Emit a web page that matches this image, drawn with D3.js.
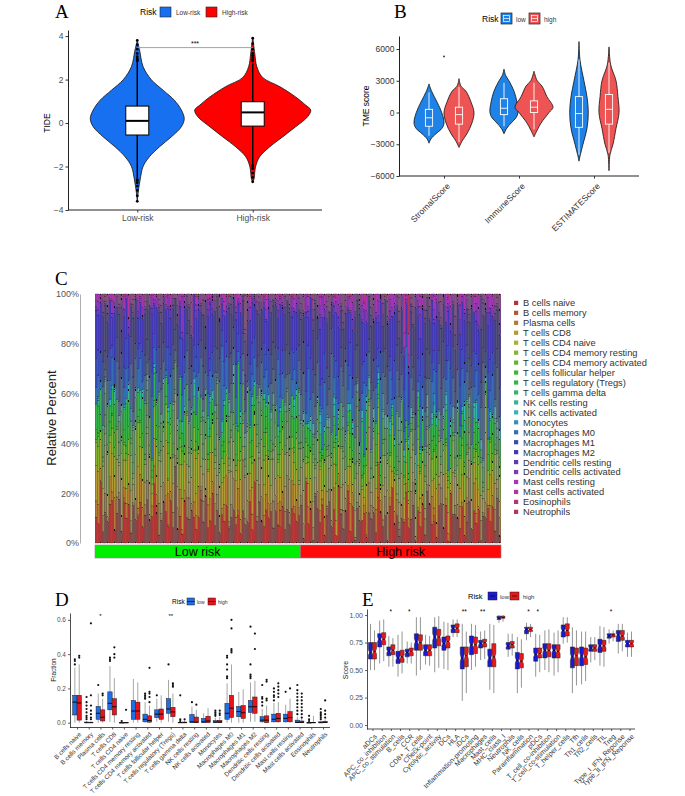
<!DOCTYPE html>
<html><head><meta charset="utf-8">
<script src="https://cdn.jsdelivr.net/npm/d3@7"></script>
<style>body{margin:0;background:#fff}</style>
</head><body>
<svg id="c" width="685" height="796"></svg>
<script>
// ---------------- DATA ----------------
// Panel A (TIDE)
const riskA = ["Low-risk","High-risk"];
const tideTicks = [-4,-2,0,2,4];
const tideLowDens = [[3.8,0],[3.35,0.04],[2.6,0.1],[2.0,0.24],[1.5,0.45],[1.05,0.64],[0.6,0.76],[0.2,0.81],[-0.17,0.76],[-0.63,0.59],[-1.1,0.38],[-1.55,0.21],[-2.0,0.1],[-2.6,0.05],[-3.1,0.02],[-3.6,0]];
const tideHighDens = [[3.95,0],[3.2,0.035],[2.6,0.07],[2.1,0.17],[1.67,0.47],[1.2,0.74],[0.83,0.91],[0.6,1.0],[0.3,0.95],[-0.17,0.74],[-0.63,0.52],[-1.1,0.29],[-1.55,0.12],[-2.0,0.05],[-2.6,0.02],[-2.7,0]];
const tideLowBox = [-2.55,-0.55,0.1,0.78,2.8];
const tideHighBox = [-1.9,-0.14,0.49,0.98,2.75];
const tideLowOut = [2.85,2.9,2.95,3.05,3.2,3.4,3.6,3.8,-2.6,-2.65,-2.75,-2.9,-3.1,-3.35,-3.6];
const tideHighOut = [2.85,2.9,3.0,3.1,3.2,3.4,3.65,3.9,-1.95,-2.0,-2.1,-2.3,-2.5,-2.7];
const tideSig = "***";

// Panel B (TME score)
const tmeScores = ["StromalScore","ImmuneScore","ESTIMATEScore"];
const tmeGroups = ["low","high"];
const tmeTicks = [-6000,-3000,0,3000,6000];
const tmeLowDens = [
 [[2700,0],[2000,0.14],[1000,0.42],[0,0.67],[-1000,0.79],[-1500,0.68],[-2000,0.37],[-2500,0.1],[-2900,0]],
 [[4100,0],[3500,0.09],[3000,0.26],[2000,0.53],[1000,0.68],[0,0.74],[-500,0.63],[-1000,0.37],[-1500,0.14],[-2000,0]],
 [[6700,0],[5000,0.05],[3000,0.26],[1500,0.42],[0,0.49],[-1500,0.42],[-3000,0.21],[-4000,0.07],[-4600,0]]];
const tmeHighDens = [
 [[3200,0],[2500,0.1],[2000,0.37],[1000,0.63],[0,0.79],[-1000,0.68],[-2000,0.42],[-2700,0.16],[-3300,0]],
 [[3900,0],[3000,0.17],[2500,0.42],[1500,0.68],[500,1],[0,0.79],[-1000,0.37],[-1700,0.16],[-2300,0]],
 [[6200,0],[4500,0.09],[3000,0.37],[1500,0.47],[0,0.53],[-1500,0.37],[-3000,0.21],[-4000,0.05],[-5500,0]]];
const tmeLowBox = [[-2200,-1300,-500,300,1900],[-1300,-200,400,1300,2800],[-4000,-1400,-100,1500,5000]];
const tmeHighBox = [[-2800,-1100,-200,500,2400],[-1600,0,500,1100,2800],[-3800,-1100,300,1700,4700]];
const tmeOutliers = [[5300],[],[]];

// Panel C (CIBERSORT relative percent); one char per sample, value in percent
const cellTypes = ["B cells naive","B cells memory","Plasma cells","T cells CD8","T cells CD4 naive","T cells CD4 memory resting","T cells CD4 memory activated","T cells follicular helper","T cells regulatory (Tregs)","T cells gamma delta","NK cells resting","NK cells activated","Monocytes","Macrophages M0","Macrophages M1","Macrophages M2","Dendritic cells resting","Dendritic cells activated","Mast cells resting","Mast cells activated","Eosinophils","Neutrophils"];
const fracLow = [
"8af5c9hk6b d7gal4e9cj 6bm8fud3ah c9e7B6b4gd 9fa5cn7r6b h8c5d9f6ag 7b4ec8j6s9 ea6g9c5fb8 d6a9fc7e",
"0000100000 0020000010 0000003000 0100000000 0000050000 0000000100 0200000000 0001000008 00000000",
"5a3782c4f6 2946b5183d 74a2695c38 6h3759b24a 8365e2749b 4a6837c25f 396m4857a2 6b485397d4 58a6c374",
"bh7ck9fiae 8mb6gc7hjd a9ob7e8gcf l7bdq9aebh 6ck8fb9hdn ag7ecb8ld9 ebh6ra8cgf 9dbka7e8hc fb7ge9ac",
"0000000000 0000000000 0000000000 0000000000 0000000000 0000000100 0000000000 0000000000 00000000",
"7d2a5h3c9b 1f6b8e2ak4 c7395gd2b6 e18c4a7f3p 6b9d2h5c18 a3f7b6e2d9 4c8a1g7b5e 2d9c6a3f8b 7e4c59a2",
"1502310640 2813052107 0261403152 0e31024601 5203170240 1362051308 2041620315 0b52130426 1053042g",
"3242536171 4253724231 5263436a42 3625247231 2463825724 2352641736 4263517734 3256242735 24369253",
"8e6c9g7bda 6f8he7c9b5 dk7a6e9c8g 7b5fd8h6ce 9c6aeb8g7d 5h8c6f9b7e ap6d8c7g9b e7c5h8d6ba 8f6d9c7e",
"0000000000 0000000000 0000000000 0000000000 0000000000 0000000000 0000000000 0000000000 00000000",
"0300510260 0402601309 2050031040 0603020510 0250401370 3010502604 0130620401 5020304160 0301052c",
"0102103010 2010301020 1030120102 0201031020 1020102013 0301020105 1020301020 0102030102 01020301",
"0100100010 0010050100 0100001000 1000100070 0100010001 0010100000 1006000100 0100010010 00100001",
"5b2h3a8d1e 4g7c2i5b9f 3a6ez8c4b7 2d9f5a1c6h 8b3e7k4a9c 5f2ry6d3b8 a4c7e2g9b5 1d6h3a8cE5 9b4f7c2e",
"9d7b8ae6c9 af8c7bd697 b8c6e7ad98 9k7bacf869 c8a7d9be76 8c9b7a6fca d7b98ace97 a6c8db9f7b 8c9ad7b8",
"fickjeldlb gdkficmhej cgfjxeidkg elcgfidhjc idkegfhcnr dgficjclfe hcjegdkifm eidhfgckiy fgdkehci",
"1302140230 2e31402130 1240310253 0132041302 5103240f31 2041302140 3102m40231 4021302150 13024030",
"2415031624 1502413052 3140625130 2513041g25 1402315042 3516024130 2041536214 0325140263 15024136",
"2403152041 3250142031 5204130251 3142053021 4b03152402 1305241302 5140325013 2405132041 30251402",
"0010200300 0100c02001 0300100200 1000200100 0400100020 0001030010 0200m01000 1003000200 01000200",
"0000000000 0000100000 0000000000 0000000010 0000000000 0000000000 0000100000 0000000000 00000000",
"0000100000 0010000100 0000001000 0100000000 0001000000 1000000100 0000010000 0010000001 00001000"];
const fracHigh = [
"c2h9a1fk7d 3bg8e2rc6a j5d1hb8f2e 9c4lg7a1dk 6e2b9t5cf1 a8d3gj6b2e f7c1ka9d4h 2bg6e8c1fa b9d5e3",
"0000001000 0300000000 0000000010 000f000000 0020000000 0000000300 0000010000 0a00000000 000000",
"3618250a42 7153906284 2c5137048e 5291637b30 4826153e92 1736209458 6b24103762 5390c41826 174938",
"9e4b7a5he3 c68fa4d9b5 7g39e6b4aq 5c8d4f79b6 a36e9c5h48 d7b4a95fc3 6e8b3g9a5d 4b7c9e6a8s 5d9b37",
"0000000000 0000000000 0000000000 0000000000 0000001000 0000000000 0000000000 0000000000 000000",
"6c2a8f3d1b 9e5c7a2gb4 d38b6e1c7a 5f9c2d8b4h 1a7e6c3d9b 8c4a2f7e5d 3b9d6c1a8e 7c5f2b9d4a 6e3c8b",
"0142031520 1304206130 2510h13062 0314250103 1205314021 4102530162 0314021503 2160413025 013204",
"2516142731 6142752724 1635a21461 4172526310 2754172163 5214126742 3712514c16 1461725231 517214",
"6948537a62 5879463b85 4a6973j584 6385794a63 7m59648352 4796385a74 6593847b56 8n47695384 576948",
"0000000000 0000010000 0000000000 0000000000 0000000000 0000000100 0000000000 0000000000 000000",
"0200310140 0301502001 3020041030 0102030520 0140201307 2010302503 0120410201 3010502040 010230",
"1302140230 2140312051 0320413026 1403215031 2041302514 0231402130 1430251302 4130281402 031524",
"0101001010 0100100041 0010100101 0010070010 1001001010 0100010501 0010100100 1010010010 010010",
"8g3p5c9k2e h4bD7a3f9m 5c8i2g6A4b j7d3F9e5h2 cl6a8G4f9b 3k7d5nac2h 9e4W6b8g3i 5f2o7c9dS4 a8e3g6",
"8d6bc9ae7a bf5c9ad864 9e7cg5abb6 6cb8e9af57 cd5ai86b97 7fbd9c6ae5 ah68ec5db9 5ec9f7ba86 bd8f6c",
"gbmdiflcjl eipchdnfib kdhbmGfjci lfgcqbihdn fkcjehbmgL difkcgkejb nhcifgdkem bjeohdclig fkdicn",
"2103042150 3201405230 1042031602 4103250130 2051402310 3c02410253 1402305140 2031042d01 420315",
"3152041637 2504136152 4160325140 3627150243 1536024175 2413062514 3052716243 1524036172 504316",
"3605142731 4260315472 1536024361 5273041625 3140627351 2536140723 6142537031 4261735024 163527",
"0100020010 0300010002 0100030100 0200100300 0010h00200 0100020100 3001000200 0100010030 001000",
"0000000000 0010000000 0000000400 0000000000 0000010000 0000000000 0002000000 0000000000 000000",
"0001000000 0000100000 0100000000 0000001000 000000d000 0010000000 0000000100 0000100000 000010"];
const riskC = ["Low risk","High risk"];
const pctTicks = [0,0.2,0.4,0.6,0.8,1];

// Panel D (immune cell fraction), box stats [lo,q1,median,q3,hi]
const dCells = cellTypes;
const dLowBox = [[0,0.045,0.12,0.16,0.32],[0,0,0,0.004,0.01],[0,0.02,0.055,0.095,0.17],[0.005,0.075,0.113,0.18,0.33],[0,0,0,0,0.002],[0,0.02,0.068,0.13,0.255],[0,0.005,0.02,0.05,0.12],[0.005,0.03,0.05,0.075,0.14],[0.005,0.055,0.08,0.14,0.25],[0,0,0,0.003,0.008],[0,0,0.005,0.048,0.095],[0,0,0.005,0.025,0.055],[0,0,0.004,0.012,0.03],[0,0.02,0.055,0.113,0.23],[0,0.035,0.065,0.095,0.18],[0.005,0.06,0.093,0.13,0.235],[0,0.005,0.015,0.035,0.08],[0,0.005,0.02,0.05,0.115],[0,0.005,0.025,0.05,0.105],[0,0,0.002,0.015,0.035],[0,0,0,0,0.003],[0,0,0,0.005,0.012]];
const dHighBox = [[0,0.015,0.115,0.16,0.34],[0,0,0,0.003,0.008],[0,0.01,0.032,0.075,0.14],[0,0.045,0.093,0.14,0.26],[0,0,0,0.001,0.003],[0,0.02,0.068,0.12,0.235],[0,0.003,0.013,0.04,0.1],[0,0.02,0.05,0.08,0.16],[0,0.035,0.063,0.09,0.17],[0,0,0,0.004,0.018],[0,0,0.003,0.033,0.075],[0,0,0.01,0.038,0.085],[0,0,0.004,0.014,0.035],[0,0.03,0.085,0.16,0.34],[0,0.025,0.058,0.1,0.195],[0.005,0.055,0.093,0.15,0.245],[0,0,0.015,0.04,0.1],[0,0.005,0.025,0.055,0.12],[0,0.005,0.03,0.065,0.14],[0,0,0.002,0.01,0.025],[0,0,0,0.002,0.04],[0,0,0.002,0.008,0.02]];
const dLowOut = [[0.34,0.36,0.37],[0.02,0.03,0.04,0.06,0.08,0.1,0.12,0.15],[0.22],[0.36,0.37,0.38],[0.01],[],[0.14,0.15,0.16,0.17],[0.16],[0.34],[0.01,0.02,0.16],[0.12],[],[0.04,0.05,0.06,0.07],[0.26,0.27,0.31,0.34,0.38,0.39],[],[0.26,0.27,0.28,0.34,0.56],[0.1,0.12,0.14,0.15,0.22],[0.13,0.15,0.16,0.18,0.2],[0.18],[0.05,0.07,0.09,0.11,0.13,0.15,0.17,0.19,0.22],[0.01,0.02,0.04],[0.02,0.03,0.04,0.05,0.06,0.08]];
const dHighOut = [[0.38,0.39],[0.02,0.03,0.05,0.07,0.1,0.16,0.58],[0.16,0.17],[0.38,0.4,0.44],[0.075],[],[0.12,0.15,0.17,0.18,0.32],[],[0.21,0.22,0.23],[0.02],[0.105],[],[0.045,0.055,0.07],[0.41,0.42,0.43,0.55,0.6],[],[0.43,0.52],[0.13,0.14,0.24,0.25],[0.15,0.17,0.19,0.21,0.23],[0.2],[0.03,0.05,0.07,0.09,0.11,0.13,0.15,0.17],[],[0.03,0.05,0.07,0.13]];
const dSig = ["","","*","","","","","","**","","","","","","","","","","","","",""];
const dTicks = [0,0.2,0.4,0.6];

// Panel E (ssGSEA score)
const eSets = ["aDCs","APC_co_inhibition","APC_co_stimulation","B_cells","CCR","CD8+_T_cells","Check-point","Cytolytic_activity","DCs","HLA","iDCs","Inflammation-promoting","Macrophages","Mast_cells","MHC_class_I","Neutrophils","NK_cells","Parainflammation","pDCs","T_cell_co-inhibition","T_cell_co-stimulation","T_helper_cells","Tfh","Th1_cells","Th2_cells","TIL","Treg","Type_I_IFN_Reponse","Type_II_IFN_Reponse"];
const eLowBox = [[0.50,0.60,0.66,0.75,0.92],[0.56,0.71,0.78,0.83,0.95],[0.53,0.63,0.67,0.71,0.81],[0.44,0.56,0.61,0.67,0.82],[0.56,0.62,0.66,0.69,0.76],[0.45,0.68,0.76,0.83,0.98],[0.55,0.63,0.68,0.73,0.82],[0.48,0.70,0.80,0.89,0.98],[0.51,0.68,0.74,0.80,0.94],[0.80,0.84,0.88,0.91,0.96],[0.22,0.51,0.61,0.71,0.92],[0.50,0.64,0.73,0.81,0.92],[0.59,0.70,0.74,0.77,0.85],[0.32,0.53,0.61,0.69,0.92],[0.93,0.96,0.97,0.99,1.0],[0.62,0.69,0.72,0.75,0.83],[0.29,0.51,0.59,0.66,0.80],[0.77,0.83,0.87,0.89,0.93],[0.44,0.58,0.64,0.70,0.83],[0.50,0.61,0.68,0.74,0.86],[0.45,0.61,0.68,0.73,0.84],[0.74,0.80,0.86,0.91,0.98],[0.29,0.52,0.62,0.71,0.89],[0.37,0.54,0.63,0.71,0.85],[0.57,0.67,0.70,0.73,0.80],[0.54,0.66,0.72,0.78,0.90],[0.74,0.79,0.81,0.83,0.87],[0.65,0.76,0.82,0.86,0.92],[0.62,0.71,0.74,0.77,0.84]];
const eHighBox = [[0.50,0.60,0.67,0.75,0.86],[0.58,0.73,0.78,0.84,0.96],[0.53,0.64,0.68,0.73,0.79],[0.47,0.57,0.62,0.68,0.85],[0.56,0.63,0.67,0.70,0.75],[0.50,0.68,0.75,0.82,0.98],[0.54,0.63,0.68,0.73,0.81],[0.52,0.72,0.80,0.87,0.99],[0.50,0.70,0.76,0.81,0.93],[0.80,0.84,0.88,0.92,0.96],[0.29,0.53,0.63,0.71,0.85],[0.53,0.65,0.73,0.80,0.91],[0.60,0.71,0.75,0.78,0.86],[0.29,0.53,0.62,0.74,0.91],[0.94,0.97,0.98,0.99,1.0],[0.63,0.70,0.73,0.76,0.83],[0.34,0.52,0.58,0.65,0.78],[0.80,0.85,0.87,0.89,0.92],[0.48,0.61,0.65,0.70,0.82],[0.48,0.62,0.68,0.74,0.87],[0.48,0.61,0.67,0.73,0.86],[0.75,0.81,0.86,0.92,0.98],[0.36,0.54,0.63,0.70,0.86],[0.40,0.55,0.62,0.70,0.85],[0.59,0.67,0.70,0.73,0.80],[0.53,0.67,0.72,0.77,0.89],[0.76,0.80,0.82,0.83,0.86],[0.67,0.77,0.81,0.86,0.92],[0.62,0.71,0.74,0.77,0.85]];
const eSig = ["","","*","","*","","","","","","**","","**","","","","","*","*","","","","","","","","*","",""];
const eTicks = [0,0.25,0.5,0.75,1];
const eN = 88;

// ---------------- DRAWING ----------------
const svg = d3.select("#c");
const SANS = "'Liberation Sans', Arial, Helvetica, sans-serif";
const SERIF = "'Liberation Serif', 'Times New Roman', serif";
svg.append("rect").attr("width",685).attr("height",796).attr("fill","#fff");

function plabel(t,x,y){ svg.append("text").attr("x",x).attr("y",y).attr("font-family",SERIF).attr("font-size",19).text(t); }
function txt(g,x,y,t,size,opts={}){
  const e=g.append("text").attr("x",x).attr("y",y).attr("font-family",SANS).attr("font-size",size).attr("fill",opts.fill||"#000").text(t);
  if(opts.anchor) e.attr("text-anchor",opts.anchor);
  if(opts.rot!==undefined) e.attr("transform",`rotate(${opts.rot},${x},${y})`);
  if(opts.dy) e.attr("dy",opts.dy);
  return e;
}
function styleAxis(g,size,col,lw){
  g.selectAll("text").attr("font-family",SANS).attr("font-size",size).attr("fill",col);
  g.selectAll("line").attr("stroke","#333").attr("stroke-width",lw);
  g.select(".domain").attr("stroke","#222").attr("stroke-width",lw);
}

// ===== Panel A =====
plabel("A",55,18);
const gA = svg.append("g");
const yA = d3.scaleLinear().domain([-4,4.28]).range([210,30]);
const xA = d3.scalePoint().domain(riskA).range([68,322]).padding(0.6);
const wA = d3.scaleLinear().domain([0,1]).range([0,58]);
const colA = {"Low-risk":"#1770f0","High-risk":"#ff0000"};
[[riskA[0],tideLowDens,tideLowBox,tideLowOut],[riskA[1],tideHighDens,tideHighBox,tideHighOut]].forEach(([k,dens,bx,out])=>{
  const cx=xA(k);
  const area=d3.area().curve(d3.curveCatmullRom).y(d=>yA(d[0])).x0(d=>cx-wA(d[1])).x1(d=>cx+wA(d[1]));
  gA.append("path").attr("d",area(dens)).attr("fill",colA[k]).attr("stroke","#111").attr("stroke-width",0.8);
  gA.append("line").attr("x1",cx).attr("x2",cx).attr("y1",yA(bx[0])).attr("y2",yA(bx[4])).attr("stroke","#000").attr("stroke-width",1.5);
  gA.append("rect").attr("x",cx-11.5).attr("width",23).attr("y",yA(bx[3])).attr("height",yA(bx[1])-yA(bx[3])).attr("fill","#fff").attr("stroke","#000").attr("stroke-width",1);
  gA.append("line").attr("x1",cx-11.5).attr("x2",cx+11.5).attr("y1",yA(bx[2])).attr("y2",yA(bx[2])).attr("stroke","#000").attr("stroke-width",2);
  gA.selectAll(null).data(out).enter().append("circle").attr("cx",cx).attr("cy",d=>yA(d)).attr("r",1.4).attr("fill","#000");
});
gA.append("line").attr("x1",xA(riskA[0])).attr("x2",xA(riskA[1])).attr("y1",yA(3.47)).attr("y2",yA(3.47)).attr("stroke","#999").attr("stroke-width",0.9);
txt(gA,(xA(riskA[0])+xA(riskA[1]))/2,yA(3.47)-2,tideSig,7,{anchor:"middle"});
const axAy = gA.append("g").attr("transform","translate(68,0)").call(d3.axisLeft(yA).tickValues(tideTicks).tickSize(2.5).tickSizeOuter(0).tickPadding(2));
styleAxis(axAy,8.5,"#4d4d4d",1);
const axAx = gA.append("g").attr("transform","translate(0,210)").call(d3.axisBottom(xA).tickSize(2.5).tickSizeOuter(0).tickPadding(2));
styleAxis(axAx,8.5,"#4d4d4d",1);
axAx.select(".domain").attr("d","M68,0H322");
txt(gA,50,123,"TIDE",8.5,{anchor:"middle",rot:-90});
txt(gA,140,15,"Risk",8.5);
[[riskA[0],160,176],[riskA[1],206,222]].forEach(([k,x,tx])=>{
  gA.append("rect").attr("x",x).attr("y",7).attr("width",11).attr("height",10).attr("fill",colA[k]).attr("stroke","#222").attr("stroke-width",0.6);
  txt(gA,tx,14.5,k,6.5,{fill:"#333"});
});

// ===== Panel B =====
plabel("B",394,18);
const gB = svg.append("g");
const yB = d3.scaleLinear().domain([-6000,7230]).range([176,36]);
const xB = d3.scalePoint().domain(tmeScores).range([399,639]).padding(0.6);
const dodgeB = d3.scalePoint().domain(tmeGroups).range([-15,15]);
const wB = d3.scaleLinear().domain([0,1]).range([0,19]);
const colB = {low:"#1e82e6",high:"#ef5454"};
tmeScores.forEach((s,i)=>{
  [["low",tmeLowDens[i],tmeLowBox[i]],["high",tmeHighDens[i],tmeHighBox[i]]].forEach(([gk,dens,bx])=>{
    const cx=xB(s)+dodgeB(gk);
    const area=d3.area().curve(d3.curveCatmullRom).y(d=>yB(d[0])).x0(d=>cx-wB(d[1])).x1(d=>cx+wB(d[1]));
    gB.append("path").attr("d",area(dens)).attr("fill",colB[gk]).attr("stroke","#111").attr("stroke-width",0.8);
    gB.append("line").attr("x1",cx).attr("x2",cx).attr("y1",yB(bx[0])).attr("y2",yB(bx[3])).attr("stroke","#fff").attr("stroke-width",0.9);
    gB.append("line").attr("x1",cx).attr("x2",cx).attr("y1",yB(bx[1])).attr("y2",yB(bx[4])).attr("stroke","#fff").attr("stroke-width",0.9);
    gB.append("rect").attr("x",cx-3.6).attr("width",7.2).attr("y",yB(bx[3])).attr("height",yB(bx[1])-yB(bx[3])).attr("fill",colB[gk]).attr("stroke","#fff").attr("stroke-width",0.9);
    gB.append("line").attr("x1",cx-3.6).attr("x2",cx+3.6).attr("y1",yB(bx[2])).attr("y2",yB(bx[2])).attr("stroke","#fff").attr("stroke-width",0.9);
  });
  tmeOutliers[i].forEach(v=>gB.append("circle").attr("cx",xB(s)).attr("cy",yB(v)).attr("r",0.9).attr("fill","#222"));
});
const axBy = gB.append("g").attr("transform","translate(399,0)").call(d3.axisLeft(yB).tickValues(tmeTicks).tickSize(2.5).tickSizeOuter(0).tickPadding(2).tickFormat(d3.format("d")));
styleAxis(axBy,8.5,"#333",1);
const axBx = gB.append("g").attr("transform","translate(0,176)").call(d3.axisBottom(xB).tickSize(2.5).tickSizeOuter(0).tickFormat(""));
styleAxis(axBx,8.5,"#333",1);
axBx.select(".domain").attr("d","M399,0H639");
tmeScores.forEach(s=>txt(gB,xB(s)+3,183,s,8.5,{anchor:"end",rot:-45,fill:"#333",dy:"0.6em"}));
txt(gB,369,106,"TME score",8.5,{anchor:"middle",rot:-90});
txt(gB,482,22,"Risk",8.5);
[["low",501,516],["high",529,544]].forEach(([k,x,tx])=>{
  gB.append("rect").attr("x",x).attr("y",13).attr("width",11).attr("height",11).attr("fill",colB[k]).attr("stroke","#222").attr("stroke-width",0.7);
  gB.append("rect").attr("x",x+2.5).attr("y",15.5).attr("width",6).attr("height",6).attr("fill","none").attr("stroke","#fff").attr("stroke-width",0.7);
  gB.append("line").attr("x1",x+2.5).attr("x2",x+8.5).attr("y1",18.5).attr("y2",18.5).attr("stroke","#fff").attr("stroke-width",0.7);
  txt(gB,tx,21.5,k,6.5,{fill:"#333"});
});

// ===== Panel C =====
plabel("C",55,285);
const gC = svg.append("g");
const CODE = "0123456789abcdefghijklmnopqrstuvwxyzABCDEFGHIJKLMNOPQRSTUVWXYZ";
const decode = s => s.replace(/\s/g,"").split("").map(ch=>CODE.indexOf(ch));
const lowVals = fracLow.map(decode), highVals = fracHigh.map(decode);
const nLow = d3.max(lowVals,a=>a.length), nHigh = d3.max(highVals,a=>a.length);
const samples = [];
for(let i=0;i<nLow;i++){ const o={id:"L"+i,risk:riskC[0]}; cellTypes.forEach((c,k)=>o[c]=lowVals[k][i]||0); samples.push(o); }
for(let i=0;i<nHigh;i++){ const o={id:"H"+i,risk:riskC[1]}; cellTypes.forEach((c,k)=>o[c]=highVals[k][i]||0); samples.push(o); }
const stackC = d3.stack().keys(cellTypes).offset(d3.stackOffsetExpand)(samples);
const xC = d3.scaleBand().domain(samples.map(d=>d.id)).range([95,501]).paddingInner(0.16).paddingOuter(0.08);
const yC = d3.scaleLinear().domain([0,1]).range([543,294]);
function hsv(h,s,v){ const i=Math.floor(h*6), f=h*6-i, p=v*(1-s), q=v*(1-f*s), t=v*(1-(1-f)*s); let r,g,b;
  switch(i%6){case 0:r=v;g=t;b=p;break;case 1:r=q;g=v;b=p;break;case 2:r=p;g=v;b=t;break;case 3:r=p;g=q;b=v;break;case 4:r=t;g=p;b=v;break;default:r=v;g=p;b=q;}
  return d3.rgb(r*255,g*255,b*255).formatHex(); }
const colC = d3.scaleOrdinal().domain(cellTypes).range(cellTypes.map((c,i)=>hsv(i/cellTypes.length,0.7,0.7)));
stackC.forEach(ser=>{
  gC.append("g").attr("fill",colC(ser.key)).selectAll("rect").data(ser.filter(d=>d[1]-d[0]>0)).enter().append("rect")
    .attr("x",d=>xC(d.data.id)).attr("width",xC.bandwidth())
    .attr("y",d=>yC(d[1])).attr("height",d=>yC(d[0])-yC(d[1]))
    .attr("stroke","#111").attr("stroke-width",0.3);
});
const boundary = (xC("L"+(nLow-1))+xC.bandwidth()+xC("H0"))/2;
gC.append("rect").attr("x",95).attr("y",545).attr("width",boundary-95).attr("height",13).attr("fill","#00ee00").attr("stroke","#888").attr("stroke-width",0.6);
gC.append("rect").attr("x",boundary).attr("y",545).attr("width",501-boundary).attr("height",13).attr("fill","#ff0a0a").attr("stroke","#888").attr("stroke-width",0.6);
txt(gC,(95+boundary)/2,556,riskC[0],12.5,{anchor:"middle"});
txt(gC,(boundary+501)/2,556,riskC[1],12.5,{anchor:"middle"});
const axC = gC.append("g").attr("transform","translate(80,0)").call(d3.axisLeft(yC).tickValues(pctTicks).tickSize(0).tickSizeOuter(0).tickPadding(1).tickFormat(d3.format(".0%")));
styleAxis(axC,9,"#555",0.8);
axC.select(".domain").attr("stroke","#999");
txt(gC,56,418,"Relative Percent",13,{anchor:"middle",rot:-90,fill:"#222"});
cellTypes.forEach((c,i)=>{
  const y=303+i*9.95;
  gC.append("rect").attr("x",514).attr("y",y-2.2).attr("width",4.2).attr("height",4.2).attr("fill",colC(c));
  txt(gC,523,y+3.3,c,9.3,{fill:"#333"});
});

// ===== Boxplot helpers =====
function simpleBox(g,cx,w,st,yS,fill,wcol){
  g.append("line").attr("x1",cx).attr("x2",cx).attr("y1",yS(st[0])).attr("y2",yS(st[4])).attr("stroke",wcol).attr("stroke-width",0.7);
  g.append("rect").attr("x",cx-w/2).attr("width",w).attr("y",yS(st[3])).attr("height",Math.max(0.4,yS(st[1])-yS(st[3]))).attr("fill",fill).attr("stroke","#222").attr("stroke-width",0.5);
  g.append("line").attr("x1",cx-w/2).attr("x2",cx+w/2).attr("y1",yS(st[2])).attr("y2",yS(st[2])).attr("stroke","#000").attr("stroke-width",0.9);
}
function notchBox(g,cx,w,st,yS,fill,n){
  const [lo,q1,med,q3,hi]=st; const nd=1.58*(q3-q1)/Math.sqrt(n);
  const nlo=Math.max(q1,med-nd), nhi=Math.min(q3,med+nd);
  const x0=cx-w/2,x1=cx+w/2,ins=w*0.25;
  g.append("line").attr("x1",cx).attr("x2",cx).attr("y1",yS(lo)).attr("y2",yS(hi)).attr("stroke","#7a7a7a").attr("stroke-width",0.8);
  g.append("path").attr("d",`M${x0},${yS(q3)}L${x1},${yS(q3)}L${x1},${yS(nhi)}L${x1-ins},${yS(med)}L${x1},${yS(nlo)}L${x1},${yS(q1)}L${x0},${yS(q1)}L${x0},${yS(nlo)}L${x0+ins},${yS(med)}L${x0},${yS(nhi)}Z`)
    .attr("fill",fill).attr("stroke","#222").attr("stroke-width",0.5);
  g.append("line").attr("x1",x0+ins).attr("x2",x1-ins).attr("y1",yS(med)).attr("y2",yS(med)).attr("stroke","#000").attr("stroke-width",0.8);
}

// ===== Panel D =====
plabel("D",55,606);
const gD = svg.append("g");
const yD = d3.scaleLinear().domain([-0.028,0.64]).range([727.5,613]);
const xD = d3.scalePoint().domain(dCells).range([70,330]).padding(0.6);
const bwD = xD.step()*0.375;
const dodgeD = d3.scalePoint().domain(tmeGroups).range([-bwD/2,bwD/2]);
const colD = {low:"#1e6ee6",high:"#e8141c"};
dCells.forEach((c,i)=>{
  [["low",dLowBox[i],dLowOut[i]],["high",dHighBox[i],dHighOut[i]]].forEach(([gk,st,out])=>{
    const cx=xD(c)+dodgeD(gk);
    simpleBox(gD,cx,bwD,st,yD,colD[gk],"#808080");
    gD.selectAll(null).data(out).enter().append("circle").attr("cx",cx).attr("cy",d=>yD(d)).attr("r",1.1).attr("fill","#111");
  });
  if(dSig[i]) txt(gD,xD(c),yD(0.612),dSig[i],6,{anchor:"middle"});
});
const axDy = gD.append("g").attr("transform","translate(70,0)").call(d3.axisLeft(yD).tickValues(dTicks).tickSize(2).tickSizeOuter(0).tickPadding(2).tickFormat(d3.format(".1f")));
styleAxis(axDy,6.5,"#4d4d4d",0.8);
const axDx = gD.append("g").attr("transform","translate(0,727.5)").call(d3.axisBottom(xD).tickSize(2).tickSizeOuter(0).tickFormat(""));
styleAxis(axDx,6,"#4d4d4d",0.8);
axDx.select(".domain").attr("d","M70,0H330");
dCells.forEach(c=>txt(gD,xD(c)+2,732,c,6.3,{anchor:"end",rot:-45,fill:"#333",dy:"0.6em"}));
txt(gD,56,670,"Fraction",6.5,{anchor:"middle",rot:-90,fill:"#222"});
txt(gD,172,604,"Risk",6.5);
[["low",187,197],["high",208,218]].forEach(([k,x,tx])=>{
  gD.append("rect").attr("x",x).attr("y",598).attr("width",7.5).attr("height",7).attr("fill",colD[k]).attr("stroke","#222").attr("stroke-width",0.5);
  gD.append("line").attr("x1",x).attr("x2",x+7.5).attr("y1",601.5).attr("y2",601.5).attr("stroke","#000").attr("stroke-width",0.6);
  txt(gD,tx,603.8,k,5,{fill:"#333"});
});

// ===== Panel E =====
plabel("E",362,606);
const gE = svg.append("g");
const yE = d3.scaleLinear().domain([-0.036,1.055]).range([729,609]);
const xE = d3.scalePoint().domain(eSets).range([367,635]).padding(0.6);
const bwE = xE.step()*0.44;
const dodgeE = d3.scalePoint().domain(tmeGroups).range([-bwE/2,bwE/2]);
const colE = {low:"#1a1ad2",high:"#e41a1a"};
eSets.forEach((s,i)=>{
  notchBox(gE,xE(s)+dodgeE("low"),bwE,eLowBox[i],yE,colE.low,eN);
  notchBox(gE,xE(s)+dodgeE("high"),bwE,eHighBox[i],yE,colE.high,eN);
  if(eSig[i]) txt(gE,xE(s),yE(1.01),eSig[i],6.5,{anchor:"middle"});
});
const axEy = gE.append("g").attr("transform","translate(367,0)").call(d3.axisLeft(yE).tickValues(eTicks).tickSize(2).tickSizeOuter(0).tickPadding(2).tickFormat(d3.format(".2f")));
styleAxis(axEy,7,"#4d4d4d",0.8);
const axEx = gE.append("g").attr("transform","translate(0,729)").call(d3.axisBottom(xE).tickSize(2).tickSizeOuter(0).tickFormat(""));
styleAxis(axEx,7,"#4d4d4d",0.8);
axEx.select(".domain").attr("d","M367,0H635");
eSets.forEach(s=>txt(gE,xE(s)+2,734,s,7,{anchor:"end",rot:-45,fill:"#333",dy:"0.6em"}));
txt(gE,348,670,"Score",7,{anchor:"middle",rot:-90,fill:"#222"});
txt(gE,468,599,"Risk",7.5);
[["low",488,500],["high",510,523]].forEach(([k,x,tx])=>{
  gE.append("rect").attr("x",x).attr("y",592).attr("width",9).attr("height",8).attr("fill",colE[k]).attr("stroke","#222").attr("stroke-width",0.5);
  gE.append("line").attr("x1",x+2).attr("x2",x+7).attr("y1",596).attr("y2",596).attr("stroke","#000").attr("stroke-width",0.6);
  txt(gE,tx,598.5,k,6,{fill:"#333"});
});
</script>
</body></html>
